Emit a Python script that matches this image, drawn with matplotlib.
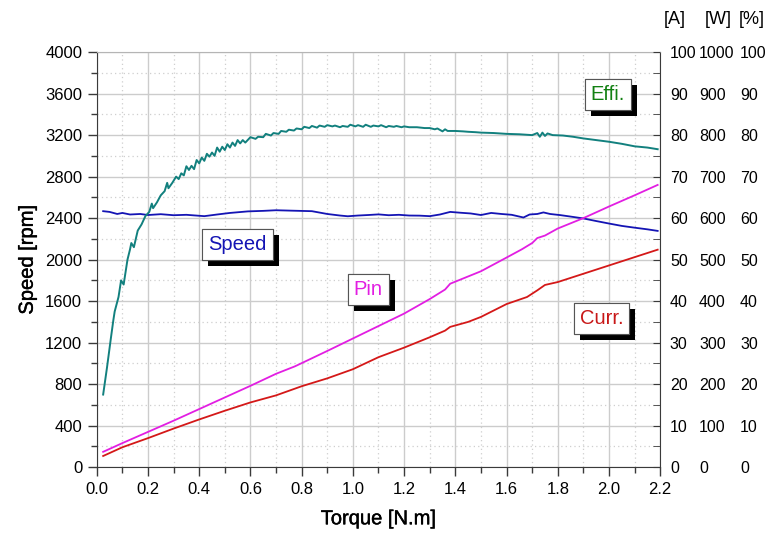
import matplotlib
matplotlib.use('Agg')
import matplotlib.pyplot as plt
import matplotlib.patheffects as pe
from matplotlib.ticker import MultipleLocator

plt.rcParams['font.family'] = ['Liberation Sans', 'DejaVu Sans']

# efficiency [%] vs torque [N.m]
eff_t = [0.025, 0.04, 0.055, 0.065, 0.07, 0.085, 0.095, 0.105, 0.12, 0.13, 0.135, 0.145,
         0.16, 0.175, 0.19, 0.205, 0.215, 0.22, 0.235, 0.25, 0.265, 0.275, 0.28, 0.295,
         0.31, 0.32, 0.33, 0.34, 0.35, 0.36, 0.37, 0.38, 0.39, 0.40, 0.41, 0.42, 0.43, 0.44,
         0.45, 0.46, 0.47, 0.48, 0.49, 0.50, 0.51, 0.52, 0.53, 0.54, 0.55, 0.56, 0.57, 0.58,
         0.60, 0.62, 0.63, 0.65, 0.66, 0.68, 0.69, 0.71, 0.72, 0.74, 0.75, 0.77, 0.78, 0.80,
         0.81, 0.83, 0.84, 0.86, 0.87, 0.89, 0.9, 0.92, 0.93, 0.95, 0.96, 0.98, 0.99, 1.01,
         1.02, 1.04, 1.05, 1.07, 1.08, 1.10, 1.11, 1.13, 1.14, 1.16, 1.17, 1.19, 1.2, 1.22,
         1.25, 1.28, 1.3, 1.32, 1.33, 1.35, 1.36, 1.37, 1.4, 1.43, 1.45, 1.48, 1.5, 1.55,
         1.6, 1.65, 1.7, 1.72, 1.73, 1.74, 1.75, 1.76, 1.78, 1.82, 1.86, 1.9, 1.95, 2.0,
         2.05, 2.1, 2.15, 2.19]
eff = [17.5, 24, 31, 35.5, 37.5, 41, 45, 44, 50, 52.5, 54, 53,
       57, 58.5, 60.5, 61.5, 63.5, 62.4, 63.8, 65.5, 66.5, 68.5, 67.2, 68.5,
       70, 69.4, 70.8, 70.3, 72.5, 71.6, 72.6, 71.8, 74, 73.2, 74.6, 73.8, 75.5, 74.8,
       75.8, 75.0, 77, 76.0, 77.2, 76.4, 77.8, 77.0, 78.2, 77.4, 78.8, 78.0, 78.8, 78.2,
       79.5, 79.1, 79.6, 79.5, 80.3, 79.9, 80.5, 80.3, 81.0, 80.8, 81.3, 81.1, 81.6, 81.4,
       82.0, 81.7, 82.2, 81.8, 82.3, 82.0, 82.4, 82.1, 82.3, 81.9, 82.2, 82.0, 82.5, 82.1,
       82.4, 82.0, 82.5, 82.0, 82.3, 82.1, 82.4, 81.9, 82.2, 82.0, 82.2, 81.9, 82.1, 81.9,
       81.9, 81.7, 81.7, 81.4, 81.6, 80.9, 81.4, 81.0, 81.0, 80.9, 80.8, 80.7, 80.6, 80.5,
       80.3, 80.2, 80.0, 80.5, 79.6, 80.6, 79.8, 80.4, 80.0, 79.9, 79.6, 79.2, 78.8, 78.4,
       77.9, 77.3, 77.0, 76.6]

# speed [rpm]
spd_t = [0.025, 0.05, 0.08, 0.1, 0.13, 0.17, 0.2, 0.25, 0.3, 0.35, 0.42, 0.47, 0.52, 0.59,
         0.65, 0.7, 0.76, 0.84, 0.9, 0.95, 0.98, 1.02, 1.06, 1.1, 1.14, 1.18, 1.22, 1.26, 1.3,
         1.34, 1.38, 1.42, 1.46, 1.5, 1.54, 1.58, 1.62, 1.666, 1.69, 1.72, 1.744, 1.77, 1.81,
         1.85, 1.9, 1.95, 2.0, 2.05, 2.1, 2.15, 2.19]
speed = [2467, 2460, 2440, 2450, 2435, 2440, 2430, 2438, 2428, 2432, 2419, 2435, 2450, 2465,
         2470, 2476, 2472, 2467, 2440, 2425, 2418, 2425, 2430, 2436, 2428, 2432, 2425, 2424, 2419,
         2435, 2460, 2452, 2445, 2430, 2450, 2440, 2432, 2406, 2435, 2440, 2455, 2440, 2429,
         2415, 2397, 2372, 2348, 2325, 2308, 2292, 2277]

# input power [W]
pin_t = [0.025, 0.1, 0.2, 0.3, 0.4, 0.5, 0.6, 0.7, 0.774, 0.9, 1.0, 1.1, 1.2, 1.3, 1.36,
         1.38, 1.42, 1.5, 1.6, 1.66, 1.7, 1.72, 1.75, 1.8, 1.9, 2.0, 2.1, 2.19]
pin = [37, 58, 85, 112, 140, 168, 196, 225, 243, 280, 310, 340, 370, 405, 428,
       442, 452, 472, 505, 525, 540, 552, 558, 575, 600, 628, 655, 680]

# current [A]
cur_t = [0.025, 0.1, 0.2, 0.3, 0.4, 0.5, 0.6, 0.7, 0.8, 0.9, 1.0, 1.1, 1.2, 1.3, 1.36,
         1.38, 1.45, 1.5, 1.6, 1.68, 1.72, 1.75, 1.8, 1.9, 2.0, 2.1, 2.19]
curr = [2.7, 4.8, 7.0, 9.3, 11.5, 13.6, 15.6, 17.3, 19.5, 21.4, 23.6, 26.5, 28.8, 31.3, 32.9,
        33.8, 35.0, 36.2, 39.3, 41.0, 42.6, 43.9, 44.6, 46.6, 48.6, 50.6, 52.4]

dark = '#3a3a3a'
fig = plt.figure(figsize=(7.74, 5.37), dpi=100)
ax = fig.add_axes([0.125, 0.130, 0.728, 0.773])

ax.set_xlim(0, 2.2)
ax.set_ylim(0, 4000)
ax.xaxis.set_major_locator(MultipleLocator(0.2))
ax.xaxis.set_minor_locator(MultipleLocator(0.1))
ax.yaxis.set_major_locator(MultipleLocator(400))
ax.yaxis.set_minor_locator(MultipleLocator(200))
ax.xaxis.set_major_formatter(plt.FuncFormatter(lambda v, p: '%.1f' % v))
ax.grid(which='major', color='#cccccc', lw=1.0, ls='-')
ax.grid(which='minor', color='#cfcfcf', lw=0.9, ls=(0, (1, 2.5)))
ax.set_axisbelow(True)
ax.tick_params(which='major', direction='out', length=6.5, width=1, color=dark,
               labelsize=12, pad=4, right=False, top=False)
ax.tick_params(which='minor', direction='out', length=4.3, width=1, color=dark,
               right=False, top=False)
ax.spines['left'].set_color(dark)
ax.spines['bottom'].set_color(dark)
ax.spines['top'].set_color('#b5b5b5')
ax.spines['right'].set_color(dark)

semi = [pe.withStroke(linewidth=0.3, foreground='black')]
ax.set_xlabel('Torque [N.m]', fontsize=14.5, labelpad=9, path_effects=semi)
ax.set_ylabel('Speed [rpm]', fontsize=14.5, labelpad=6, path_effects=semi)

# right axes: [A], [W], [%]
ax_a = ax.twinx()
ax_a.set_ylim(0, 100)
ax_a.yaxis.set_major_locator(MultipleLocator(10))
ax_a.yaxis.set_minor_locator(MultipleLocator(5))
ax_a.tick_params(which='major', direction='in', length=5, color=dark, labelsize=11.5, pad=7)
ax_a.tick_params(which='minor', direction='in', length=5, color=dark)
for s in ax_a.spines.values():
    s.set_visible(False)

ax_w = ax.twinx()
ax_w.set_ylim(0, 1000)
ax_w.yaxis.set_major_locator(MultipleLocator(100))
ax_w.tick_params(which='both', length=0, labelsize=11.5, pad=28)
for s in ax_w.spines.values():
    s.set_visible(False)

ax_p = ax.twinx()
ax_p.set_ylim(0, 100)
ax_p.yaxis.set_major_locator(MultipleLocator(10))
ax_p.tick_params(which='both', length=0, labelsize=11.5, pad=57.5)
for s in ax_p.spines.values():
    s.set_visible(False)

# curves
ax.plot(spd_t, speed, color='#1414b4', lw=1.3)
ax_p.plot(eff_t, eff, color='#12807e', lw=1.4)
ax_w.plot(pin_t, pin, color='#e21ee2', lw=1.3)
ax_a.plot(cur_t, curr, color='#d41818', lw=1.3)

# units on top of right axes
for xx, s in [(675, '[A]'), (718, '[W]'), (752, '[%]')]:
    fig.text(xx / 774, 1 - 20 / 537, s, fontsize=13, ha='center', va='center')

# boxed labels with shadow
def box_label(t, y, s, c):
    txt = ax.text(t, y, s, color=c, fontsize=14.5, ha='center', va='center', zorder=10,
                  bbox=dict(boxstyle='square,pad=0.3', fc='white', ec='#555555', lw=0.8))
    txt.get_bbox_patch().set_path_effects([
        pe.withSimplePatchShadow(offset=(4.3, -4.3), shadow_rgbFace='black', alpha=1.0),
        pe.Normal()])

box_label(1.996, 3593, 'Effi.', '#128012')
box_label(0.549, 2145, 'Speed', '#1414b4')
box_label(1.06, 1711, 'Pin', '#e21ee2')
box_label(1.971, 1434, 'Curr.', '#c81818')

fig.savefig('out.png', dpi=100)
